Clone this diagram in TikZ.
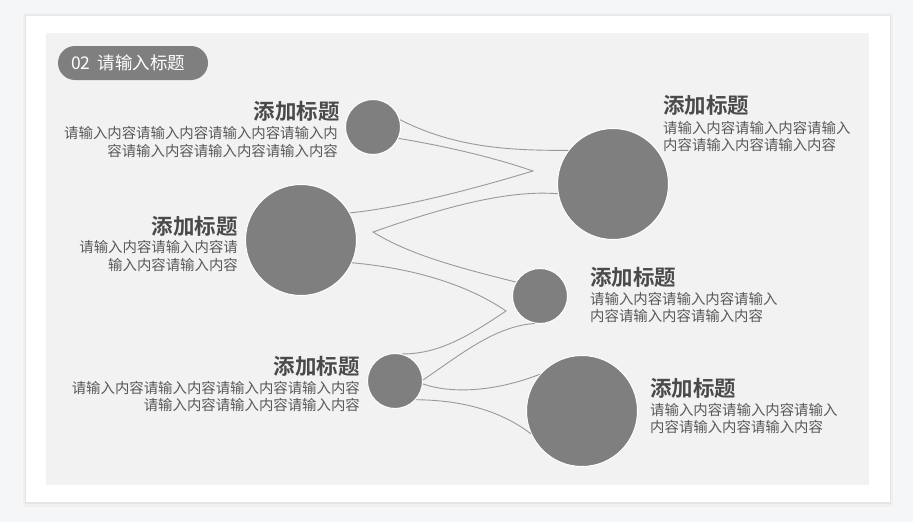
\documentclass[tikz,border=0pt]{standalone}
\usepackage{fontspec}
\setmainfont{Noto Sans CJK SC}
\newfontfamily\cjkbold{Noto Sans CJK SC Bold}
\definecolor{pagebg}{HTML}{F5F6F8}
\definecolor{panelbg}{HTML}{F2F2F2}
\definecolor{dotgray}{HTML}{7F7F7F}
\definecolor{linegray}{HTML}{999999}
\definecolor{titlegray}{HTML}{4A4A4A}
\definecolor{bodygray}{HTML}{595959}
\begin{document}
\begin{tikzpicture}[x=1pt,y=-1pt,
  dot/.style={circle,fill=dotgray,draw=white,line width=1pt,inner sep=0pt},
  link/.style={draw=linegray,line width=0.9pt},
  ttl/.style={inner sep=0pt,text=titlegray,font=\cjkbold\fontsize{21.5}{24}\selectfont},
  body/.style={inner sep=0pt,text=bodygray,font=\fontsize{14.4}{16}\selectfont},
  tab/.style={fill=dotgray,rounded corners=17pt}]
\useasboundingbox (0,0) rectangle (913,522);
\fill[pagebg] (0,0) rectangle (913,522);
% card shadow
\fill[black!3] (21,12) rectangle (895,510);
\fill[black!6] (23,13) rectangle (893,507);
\fill[black!10] (25,15) rectangle (891,504);
\fill[white] (26,16) rectangle (890,502);
\fill[panelbg] (46,33) rectangle (869,485);
% tab
\fill[tab] (58,46) rectangle (208,80);
\node[inner sep=0pt,anchor=base west,text=white,font=\fontsize{17.5}{20}\selectfont] (tabtext) at (71,69) {02\hspace{7pt}请输入标题};
% circles
\node[dot,minimum size=55pt] (A) at (373,127) {};
\node[dot,minimum size=111pt] (B) at (301,240) {};
\node[dot,minimum size=55pt] (C) at (395,381) {};
\node[dot,minimum size=111pt] (D) at (613,184) {};
\node[dot,minimum size=55pt] (E) at (540,296) {};
\node[dot,minimum size=111pt] (F) at (582,411) {};
% tips
\coordinate (t1) at (533,171);
\coordinate (t2) at (373,232);
\coordinate (t3) at (506,311);
% connectors
\draw[link] (A.15) .. controls (450,145) and (500,151) .. (D.143);
\draw[link] (A.-24) .. controls (450,147) and (495,158) .. (t1)
  .. controls (470,190) and (400,208) .. (B.29);
\draw[link] (D.-170) .. controls (510,190) and (450,205) .. (t2)
  .. controls (410,255) and (460,268) .. (E.150);
\draw[link] (B.-24) .. controls (410,268) and (465,283) .. (t3)
  .. controls (470,335) and (440,354) .. (C.75);
\draw[link] (C.2) .. controls (460,355) and (495,326) .. (E.-101);
\draw[link] (C.-6) .. controls (455,395) and (500,390) .. (F.139);
\draw[link] (C.-42) .. controls (460,400) and (500,410) .. (F.-156);
% labels A
\node[ttl,anchor=base east] (at) at (340,119) {添加标题};
\node[body,anchor=base east] (ab1) at (338,138) {请输入内容请输入内容请输入内容请输入内};
\node[body,anchor=base east] (ab2) at (338,156) {容请输入内容请输入内容请输入内容};
% labels B
\node[ttl,anchor=base east] (bt) at (238,234) {添加标题};
\node[body,anchor=base east] (bb1) at (238,252) {请输入内容请输入内容请};
\node[body,anchor=base east] (bb2) at (238,270) {输入内容请输入内容};
% labels C
\node[ttl,anchor=base east] (ct) at (360,374) {添加标题};
\node[body,anchor=base east] (cb1) at (360,393) {请输入内容请输入内容请输入内容请输入内容};
\node[body,anchor=base east] (cb2) at (360,410) {请输入内容请输入内容请输入内容};
% labels D
\node[ttl,anchor=base west] (dt) at (663,113) {添加标题};
\node[body,anchor=base west] (db1) at (663,133) {请输入内容请输入内容请输入};
\node[body,anchor=base west] (db2) at (663,150) {内容请输入内容请输入内容};
% labels E
\node[ttl,anchor=base west] (et) at (590,285) {添加标题};
\node[body,anchor=base west] (eb1) at (590,304) {请输入内容请输入内容请输入};
\node[body,anchor=base west] (eb2) at (590,321) {内容请输入内容请输入内容};
% labels F
\node[ttl,anchor=base west] (ft) at (650,396) {添加标题};
\node[body,anchor=base west] (fb1) at (650,415) {请输入内容请输入内容请输入};
\node[body,anchor=base west] (fb2) at (650,432) {内容请输入内容请输入内容};
\end{tikzpicture}
\end{document}
